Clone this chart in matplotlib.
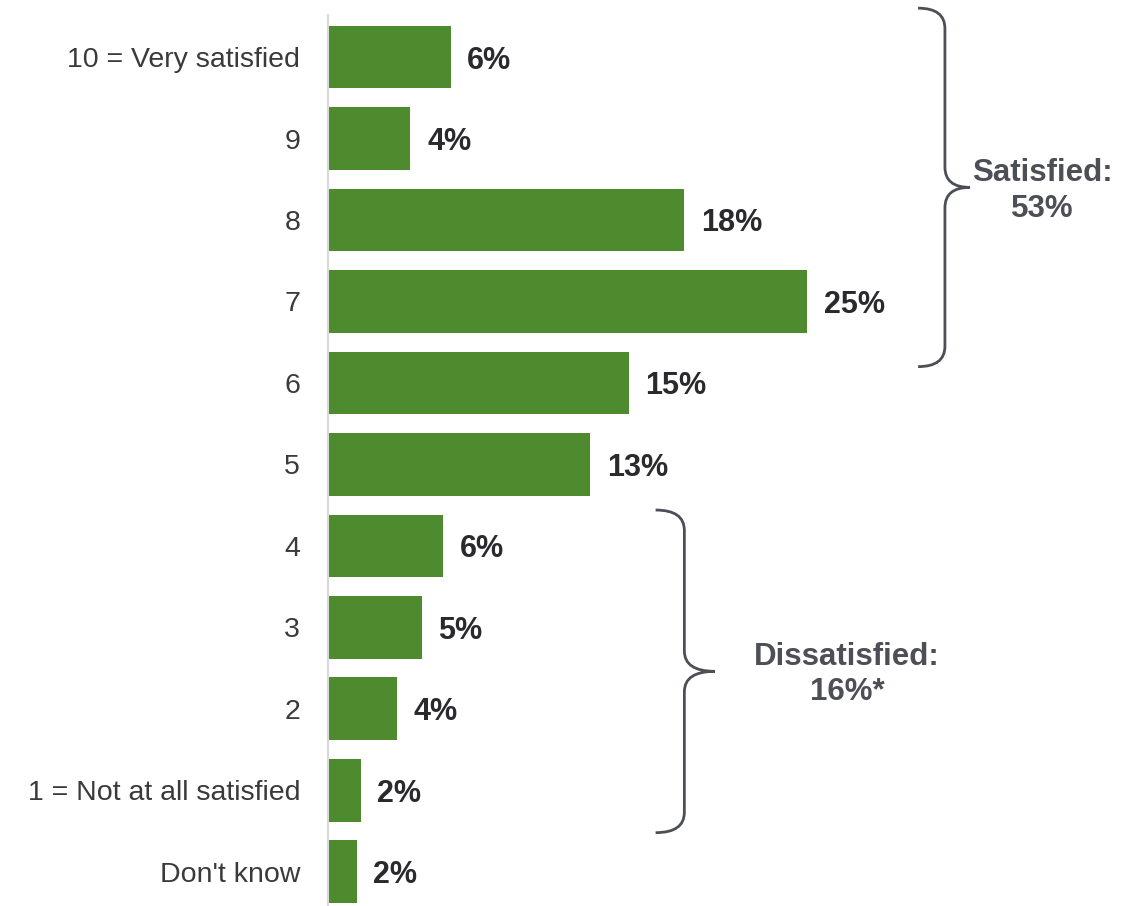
import matplotlib.pyplot as plt
from matplotlib.path import Path
from matplotlib.patches import PathPatch

plt.rcParams['font.family'] = ['Liberation Sans', 'DejaVu Sans']

categories = ["10 = Very satisfied", "9", "8", "7", "6", "5", "4", "3", "2",
              "1 = Not at all satisfied", "Don't know"]
# bar lengths (unrounded), and the printed labels
values = [6.4, 4.3, 18.6, 25.0, 15.7, 13.7, 6.0, 4.9, 3.6, 1.7, 1.5]
value_labels = ["6%", "4%", "18%", "25%", "15%", "13%", "6%", "5%", "4%", "2%", "2%"]

# groups: (first index, last index, label)
groups = [(0, 3, "Satisfied:\n53%"), (6, 9, "Dissatisfied:\n16%*")]

bar_color = "#4e8b2e"
brace_color = "#4d4f56"

fig = plt.figure(figsize=(11.3, 9.06), dpi=100)
ax = fig.add_axes([328 / 1130, 0, 1 - 328 / 1130, 1])

y = list(range(len(categories)))
ax.barh(y, values, height=0.77, color=bar_color)
for yi, v, lbl in zip(y, values, value_labels):
    ax.annotate(lbl, (v, yi), xytext=(12, 0), textcoords="offset points",
                ha="left", va="center_baseline", fontsize=22,
                fontweight="bold", color="#2a2a2e")

ax.set_xlim(0, 41.86)
ax.set_ylim(10.42, -0.70)
ax.set_yticks(y)
ax.set_yticklabels(categories, fontsize=20.5, color="#3a3a3a")
ax.tick_params(axis="y", length=0, pad=20)
ax.set_xticks([])
for s in ["top", "right", "bottom"]:
    ax.spines[s].set_visible(False)
ax.spines["left"].set_color("#d9d9d9")
ax.spines["left"].set_linewidth(1.5)
ax.spines["left"].set_bounds(10.42, -0.52)


def draw_brace(ax, x0, x1, x2, top, bot, r=0.25):
    mid = (top + bot) / 2
    verts = [(x0, top), (x1, top), (x1, top + r),
             (x1, mid - r), (x1, mid), (x2, mid),
             (x1, mid), (x1, mid + r),
             (x1, bot - r), (x1, bot), (x0, bot)]
    codes = [Path.MOVETO, Path.CURVE3, Path.CURVE3,
             Path.LINETO, Path.CURVE3, Path.CURVE3,
             Path.CURVE3, Path.CURVE3,
             Path.LINETO, Path.CURVE3, Path.CURVE3]
    ax.add_patch(PathPatch(Path(verts, codes), fill=False,
                           edgecolor=brace_color, lw=2, clip_on=False))
    return mid


# satisfied brace (right side), dissatisfied brace (middle)
brace_pos = [(30.8, 32.2, 33.5, -0.60, 3.80, 37.3),
             (17.1, 18.6, 20.2, 5.56, 9.52, 27.1)]
for (i0, i1, text), (x0, x1, x2, top, bot, tx) in zip(groups, brace_pos):
    mid = draw_brace(ax, x0, x1, x2, top, bot)
    ax.text(tx, mid + 0.04, text, ha="center", va="center", fontsize=22.5,
            fontweight="bold", color=brace_color, linespacing=1.25)

plt.savefig("out.png", dpi=100)
